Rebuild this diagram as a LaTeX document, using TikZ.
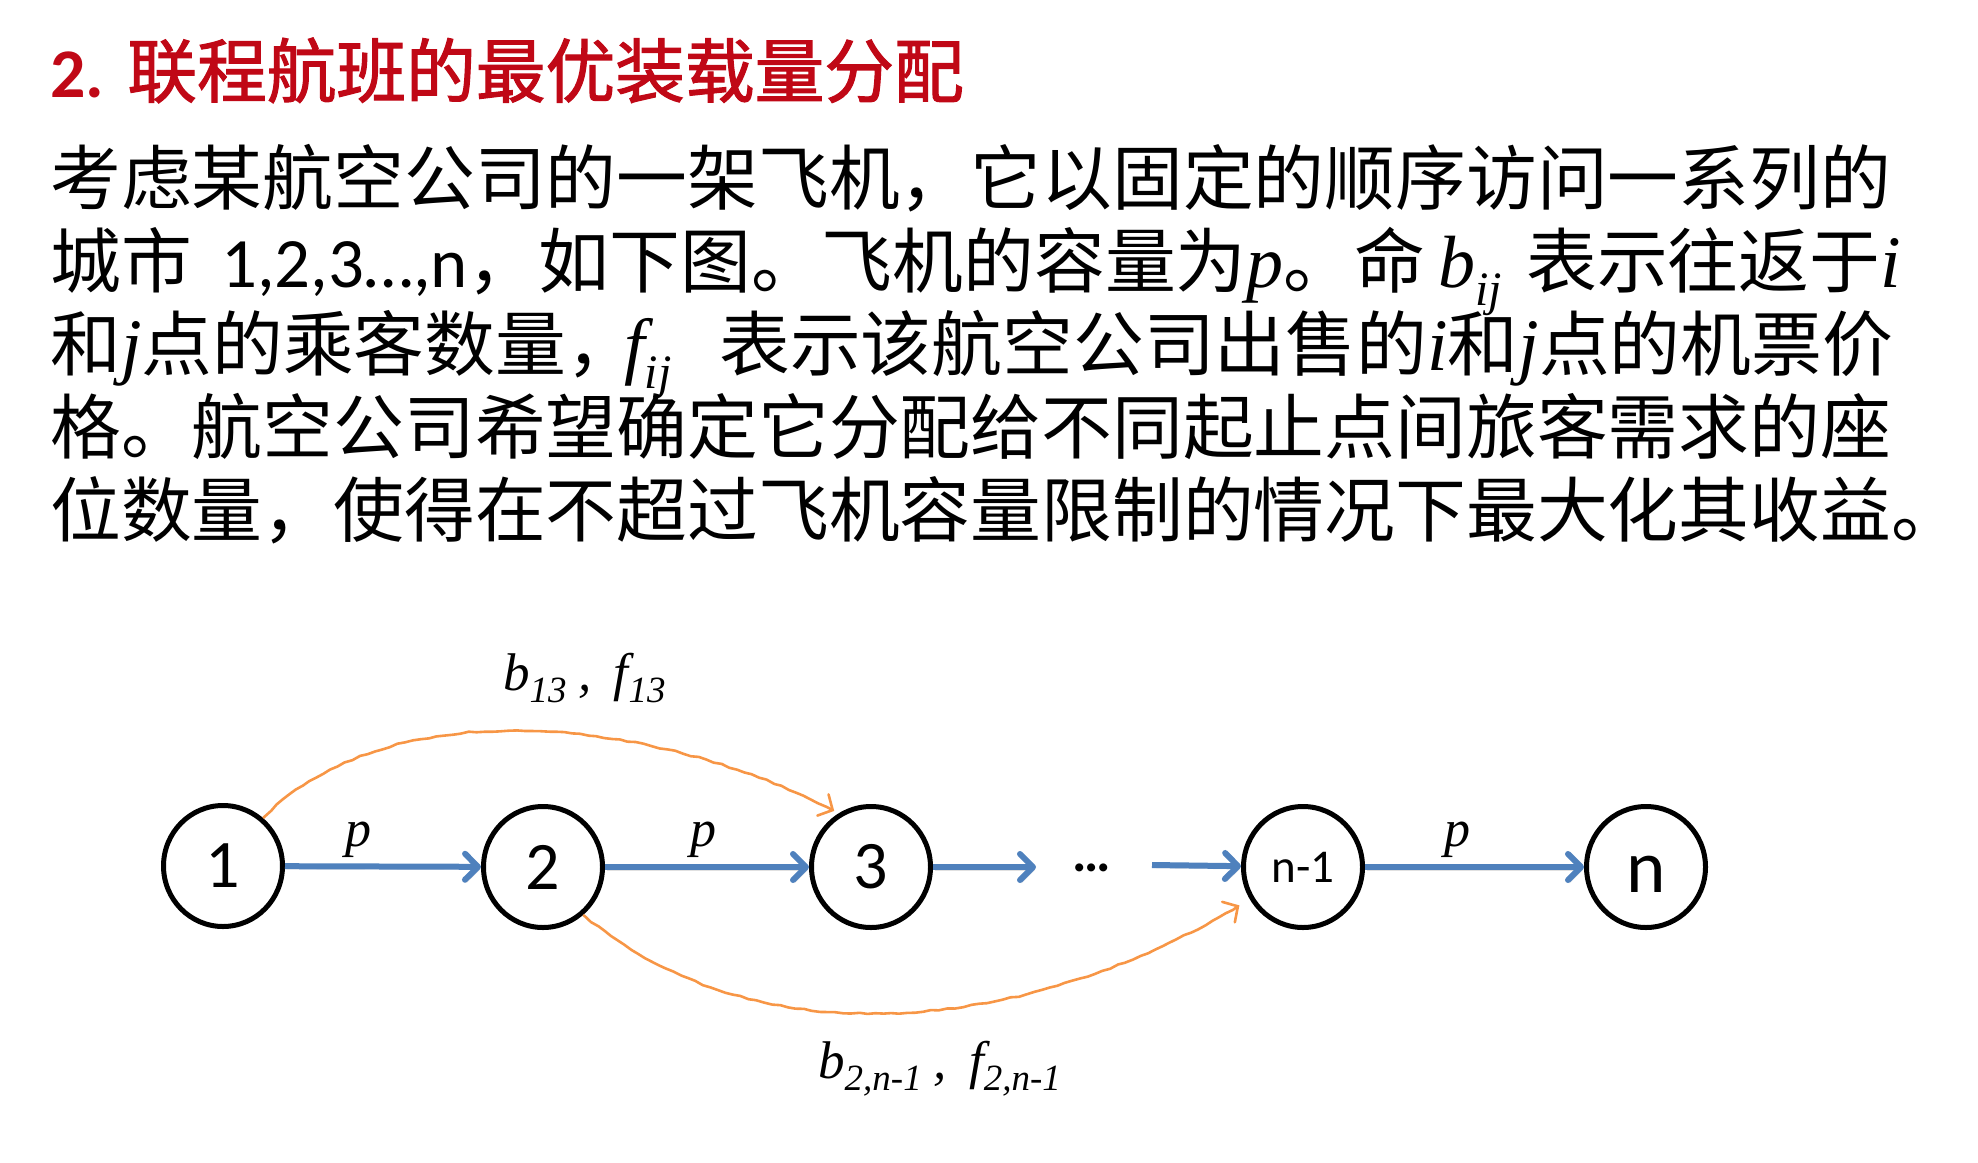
\documentclass[tikz,border=0pt]{standalone}
\usepackage{fontspec}
\setmainfont{Liberation Serif}
\newfontfamily\cjk{Noto Sans CJK SC}
\newfontfamily\cjkhead[FakeBold=1.6]{Noto Sans CJK SC}
\newfontfamily\lat{Carlito}
\usetikzlibrary{arrows.meta,decorations.pathmorphing,shapes.geometric}

\definecolor{titlered}{RGB}{192,8,22}
\definecolor{flowblue}{RGB}{79,129,189}
\definecolor{legorange}{RGB}{247,150,70}

% italic variables inside the running text
\newcommand{\vv}[1]{{\fontsize{74}{74}\selectfont\rmfamily\itshape #1}}
\newcommand{\vsub}[1]{\raisebox{-18pt}{\fontsize{48}{48}\selectfont\rmfamily\itshape #1}}
% italic variables in the diagram labels
\newcommand{\dv}[1]{{\fontsize{53}{53}\selectfont\rmfamily\itshape #1}}
\newcommand{\dsub}[1]{\raisebox{-12pt}{\fontsize{37}{37}\selectfont\rmfamily\itshape #1}}

\begin{document}
\begin{tikzpicture}[x=1pt,y=-1pt,
  body/.style={anchor=base west, inner sep=0pt, font=\cjk\fontsize{70.8}{83}\selectfont},
  heading/.style={anchor=base west, inner sep=0pt, text=titlered, font=\fontsize{69.7}{80}\selectfont},
  city/.style={ellipse, draw=black, line width=5pt, minimum width=119pt, minimum height=121pt,
    inner sep=0pt, font=\lat\fontsize{68}{68}\selectfont},
  flow/.style={draw=flowblue, line width=6pt,
    -{Straight Barb[length=13pt,width=26pt,line cap=round,line join=round]},
    preaction={draw=black, opacity=0.12, transform canvas={shift={(1.5pt,-3pt)}}}},
  leg/.style={draw=legorange, line width=2.6pt, line join=round,
    -{Straight Barb[length=11pt,width=24pt,line cap=round]},
    decorate, decoration={random steps, segment length=8pt, amplitude=0.8pt,
      pre length=3pt, post length=14pt}},
  tag/.style={anchor=base west, inner sep=0pt},
  varlabel/.style={anchor=base, inner sep=0pt, font=\fontsize{52}{52}\selectfont\rmfamily\itshape}
]
\useasboundingbox (0,0) rectangle (1978,1162);

% heading
\node[heading] (title) at (50,97) {{\lat\bfseries 2.} {\cjkhead 联程航班的最优装载量分配}};

% problem statement
\node[body] (l1) at (50,204) {考虑某航空公司的一架飞机，它以固定的顺序访问一系列的};
\node[body] (l2a) at (50,287) {城市};
\node[body] (l2b) at (221,287) {{\lat 1,2,3…,n}，如下图。飞机的容量为\vv{p}。命};
\node[body] (l2c) at (1438,287) {\vv{b}\vsub{ij}};
\node[body] (l2d) at (1526,287) {表示往返于\vv{i}};
\node[body] (l3a) at (50,370) {和\vv{j}点的乘客数量，};
\node[body] (l3b) at (624,370) {\vv{f}\vsub{ij}};
\node[body] (l3c) at (719,370) {表示该航空公司出售的\vv{i}和\vv{j}点的机票价};
\node[body] (l4) at (50,453) {格。航空公司希望确定它分配给不同起止点间旅客需求的座};
\node[body] (l5) at (50,536) {位数量，使得在不超过飞机容量限制的情况下最大化其收益。};

% cities on the route
\node[city] (c1) at (223,866) {1};
\node[city] (c2) at (543,867) {2};
\node[city] (c3) at (871,867) {3};
\node[inner sep=0pt, font=\lat\bfseries\fontsize{54}{54}\selectfont] (dots) at (1092,868) {…};
\node[city, font=\lat\fontsize{47}{47}\selectfont] (cn1) at (1303,867) {n-1};
\node[city, font=\lat\fontsize{75}{75}\selectfont, text height=51pt, text depth=0pt] (cn) at (1646,867) {n};

\coordinate (gapL) at (1036,867);
\coordinate (gapR) at (1152,865);

% capacity legs
\draw[flow] (c1) -- (c2);
\draw[flow] (c2) -- (c3);
\draw[flow] (c3) -- (gapL);
\draw[flow] (gapR) -- (cn1);
\draw[flow] (cn1) -- (cn);

\node[varlabel] (p12) at (358,846) {p};
\node[varlabel] (p23) at (703,846) {p};
\node[varlabel] (pnn) at (1457,846) {p};

% demand between non-adjacent cities
\draw[leg, shorten >=5pt] (c1.50) to[out=45, in=152, looseness=0.85] (c3.121);
\draw[leg, shorten >=12pt] (c2.-50) to[out=-40, in=212, looseness=0.92] (cn1.211);

\node[tag] (lab13) at (503,690) {\dv{b}\dsub{13}\hspace{12pt}\dv{,}\hspace{22pt}\dv{f}\dsub{13}};
\node[tag] (lab2n) at (818,1078) {\dv{b}\dsub{2,n-1}\hspace{12pt}\dv{,}\hspace{22pt}\dv{f}\dsub{2,n-1}};
\end{tikzpicture}
\end{document}
